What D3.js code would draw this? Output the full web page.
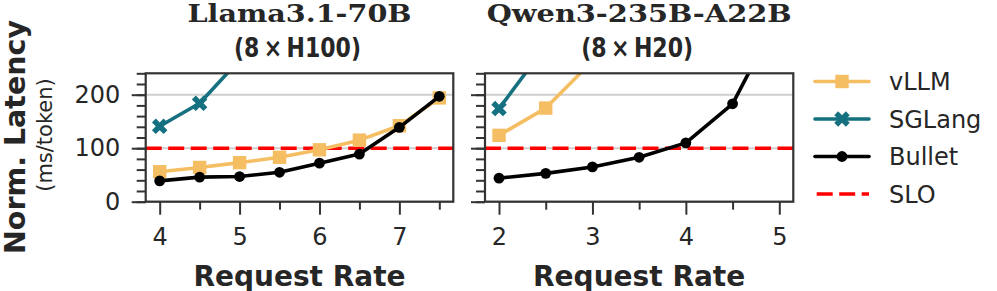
<!DOCTYPE html>
<html>
<head>
<meta charset="utf-8">
<script src="https://cdn.jsdelivr.net/npm/d3@7"></script>
<style>
  body { margin: 0; background: #fff; }
  text { font-family: "DejaVu Sans"; fill: #262626; }
</style>
</head>
<body>
<div id="chart"></div>
<script>
// data
const llamaRates  = [4, 4.5, 5, 5.5, 6, 6.5, 7, 7.5];
const llamaVllm   = [56, 64, 73, 83, 97, 115, 142, 194];
const llamaSglang = [141, 184, 265];
const llamaBullet = [39, 46, 47, 55, 72, 89, 139, 197];

const qwenRates  = [2, 2.5, 3, 3.5, 4, 4.5, 5];
const qwenVllm   = [124, 175, 263];
const qwenSglang = [174, 291];
const qwenBullet = [44, 53, 65, 83, 110, 183, 350];

const sloValue = 100;

const yMajorTicks = [0, 100, 200];
const yMinorTicks = [0, 20, 40, 60, 80, 100, 120, 140, 160, 180, 200, 220, 240];
const llamaMajorTicks = [4, 5, 6, 7];
const llamaMinorTicks = [4.5, 5.5, 6.5, 7.5];
const qwenMajorTicks = [2, 3, 4, 5];
const qwenMinorTicks = [2.5, 3.5, 4.5];

const seriesNames = ["vLLM", "SGLang", "Bullet", "SLO"];
const seriesColors = ["#f6be62", "#15707f", "#000000", "#ff0000"];

const panels = [
  { title: "Llama3.1-70B", titleLen: 224, sub: "(8\u2009×\u2009H100)", subLen: 127, rates: llamaRates,
    series: [llamaVllm, llamaSglang, llamaBullet], xDomain: [3.825, 7.675],
    major: llamaMajorTicks, minor: llamaMinorTicks, left: 145.7, right: 453.3, yLabels: true },
  { title: "Qwen3-235B-A22B", titleLen: 305, sub: "(8\u2009×\u2009H20)", subLen: 112, rates: qwenRates,
    series: [qwenVllm, qwenSglang, qwenBullet], xDomain: [1.85, 5.15],
    major: qwenMajorTicks, minor: qwenMinorTicks, left: 485, right: 793.3, yLabels: false }
];

const width = 997, height = 291;
const plotTop = 73.3, plotBottom = 201.7;
const axisColor = "#333";

const svg = d3.select("#chart").append("svg")
  .attr("width", width)
  .attr("height", height);

const y = d3.scaleLinear().domain([0, 240]).range([plotBottom, plotTop]);

// filled "X" marker like matplotlib
const xMarker = d3.symbol().type(d3.symbolCross).size(150)();

function drawMarkers(g, pts, idx, color) {
  let sel = g.selectAll(null).data(pts).enter();
  if (idx === 0) {
    sel.append("rect")
      .attr("x", d => d[0] - 6.7).attr("y", d => d[1] - 6.7)
      .attr("width", 13.4).attr("height", 13.4)
      .attr("fill", color);
  } else if (idx === 1) {
    sel.append("path")
      .attr("d", xMarker)
      .attr("transform", d => `translate(${d[0]},${d[1]}) rotate(45)`)
      .attr("fill", color);
  } else {
    sel.append("circle")
      .attr("cx", d => d[0]).attr("cy", d => d[1]).attr("r", 5.4)
      .attr("fill", color);
  }
}

panels.forEach((p, pi) => {
  const x = d3.scaleLinear().domain(p.xDomain).range([p.left, p.right]);
  const g = svg.append("g");
  const clipId = "clip" + pi;

  g.append("clipPath").attr("id", clipId)
    .append("rect")
    .attr("x", p.left).attr("y", plotTop)
    .attr("width", p.right - p.left).attr("height", plotBottom - plotTop);

  // grid
  g.append("g").selectAll("line")
    .data(yMajorTicks)
    .join("line")
      .attr("x1", p.left).attr("x2", p.right)
      .attr("y1", d => y(d)).attr("y2", d => y(d))
      .attr("stroke", "#cfcfcf")
      .attr("stroke-width", 2);

  const plot = g.append("g").attr("clip-path", `url(#${clipId})`);

  // SLO
  plot.append("line")
    .attr("x1", p.left).attr("x2", p.right)
    .attr("y1", y(sloValue)).attr("y2", y(sloValue))
    .attr("stroke", seriesColors[3])
    .attr("stroke-width", 3.6)
    .attr("stroke-dasharray", "16,6.5");

  const line = d3.line().x(d => d[0]).y(d => d[1]);

  // draw vLLM, SGLang, then Bullet on top
  p.series.forEach((vals, si) => {
    let pts = vals.map((v, i) => [x(p.rates[i]), y(v)]);
    plot.append("path")
      .attr("d", line(pts))
      .attr("fill", "none")
      .attr("stroke", seriesColors[si])
      .attr("stroke-width", 3.6)
      .attr("stroke-linejoin", "round");
    drawMarkers(plot, pts, si, seriesColors[si]);
  });

  // x axis
  let xMaj = g.append("g")
    .attr("transform", `translate(0,${plotBottom})`)
    .call(d3.axisBottom(x).tickValues(p.major).tickSize(13).tickSizeOuter(0).tickPadding(13).tickFormat(d3.format("d")));
  let xMin = g.append("g")
    .attr("transform", `translate(0,${plotBottom})`)
    .call(d3.axisBottom(x).tickValues(p.minor).tickSize(8).tickSizeOuter(0).tickFormat(""));

  // y axis
  let yMin = g.append("g")
    .attr("transform", `translate(${p.left},0)`)
    .call(d3.axisLeft(y).tickValues(yMinorTicks).tickSize(9).tickSizeOuter(0).tickFormat(""));
  let yMaj = g.append("g")
    .attr("transform", `translate(${p.left},0)`)
    .call(d3.axisLeft(y).tickValues(yMajorTicks).tickSize(14).tickSizeOuter(0).tickPadding(11.5)
      .tickFormat(p.yLabels ? d3.format("d") : ""));

  [xMaj, xMin, yMin, yMaj].forEach(a => {
    a.select(".domain").remove();
    a.selectAll("line").attr("stroke", axisColor).attr("stroke-width", 2);
    a.selectAll("text").attr("font-size", 24).attr("font-family", "DejaVu Sans").attr("fill", "#262626");
  });

  // frame
  g.append("rect")
    .attr("x", p.left).attr("y", plotTop)
    .attr("width", p.right - p.left).attr("height", plotBottom - plotTop)
    .attr("fill", "none")
    .attr("stroke", axisColor)
    .attr("stroke-width", 2.2);

  const cx = (p.left + p.right) / 2;
  g.append("text")
    .attr("x", cx).attr("y", 22)
    .attr("text-anchor", "middle")
    .style("font-family", "'DejaVu Serif'")
    .attr("font-weight", "bold")
    .attr("font-size", 25)
    .attr("textLength", p.titleLen)
    .attr("lengthAdjust", "spacingAndGlyphs")
    .text(p.title);
  g.append("text")
    .attr("x", cx - 2).attr("y", 57.3)
    .attr("text-anchor", "middle")
    .attr("font-weight", "bold")
    .attr("font-size", 27)
    .attr("textLength", p.subLen)
    .attr("lengthAdjust", "spacingAndGlyphs")
    .text(p.sub);

  g.append("text")
    .attr("x", cx).attr("y", 285.5)
    .attr("text-anchor", "middle")
    .attr("font-weight", "bold")
    .attr("font-size", 28)
    .text("Request Rate");
});

// y labels
svg.append("text")
  .attr("transform", "translate(25,137) rotate(-90)")
  .attr("text-anchor", "middle")
  .attr("font-weight", "bold")
  .attr("font-size", 28.5)
  .text("Norm. Latency");
svg.append("text")
  .attr("transform", "translate(52,135) rotate(-90)")
  .attr("text-anchor", "middle")
  .attr("font-size", 21)
  .text("(ms/token)");

// legend
const legend = svg.append("g");
seriesNames.forEach((name, i) => {
  const ly = 81.5 + i * 37.5;
  const row = legend.append("g");
  if (i < 3) {
    row.append("line")
      .attr("x1", 815).attr("x2", 869)
      .attr("y1", ly).attr("y2", ly)
      .attr("stroke", seriesColors[i]).attr("stroke-width", 3.6)
      .attr("stroke-linecap", "round");
    drawMarkers(row, [[842, ly]], i, seriesColors[i]);
  } else {
    row.append("line")
      .attr("x1", 816.7).attr("x2", 869)
      .attr("y1", ly).attr("y2", ly)
      .attr("stroke", seriesColors[i]).attr("stroke-width", 3.6)
      .attr("stroke-dasharray", "16,6.5");
  }
  row.append("text")
    .attr("x", 889)
    .attr("y", ly)
    .attr("dy", "0.36em")
    .attr("font-size", 24)
    .text(name);
});
</script>
</body>
</html>
